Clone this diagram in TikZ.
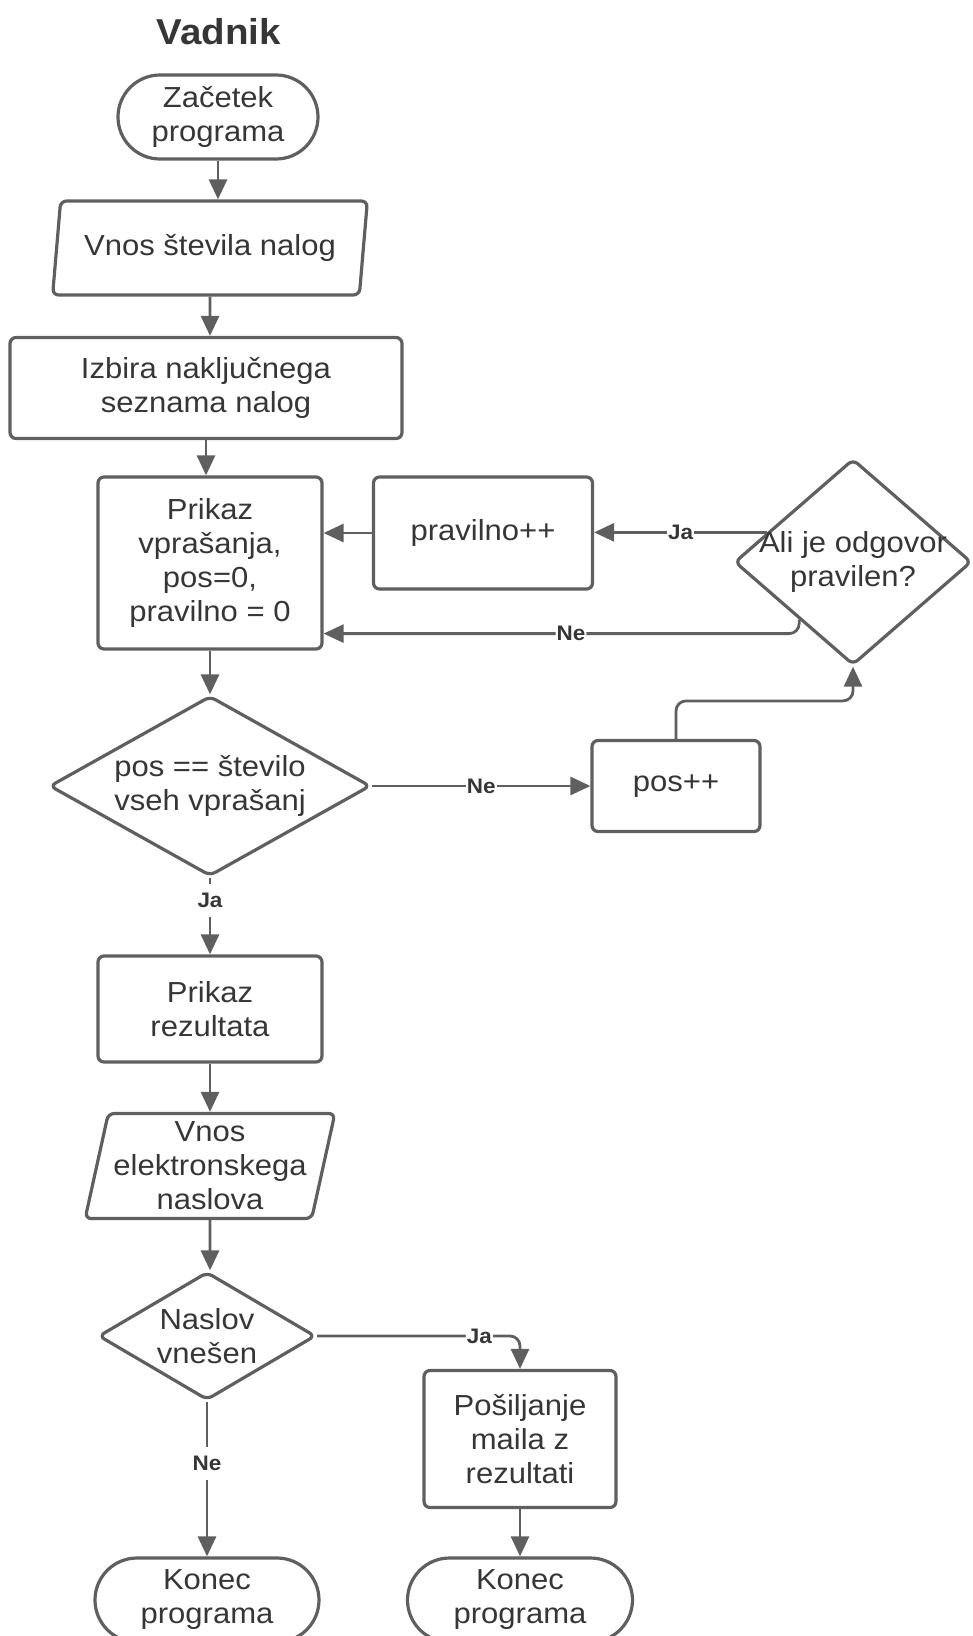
\documentclass[tikz,border=0pt]{standalone}
\usepackage{fontspec}
\setmainfont{Liberation Sans}[FakeStretch=1.07]
\usetikzlibrary{shapes.geometric, arrows.meta}
\definecolor{linegray}{HTML}{5F5F5F}
\definecolor{textgray}{HTML}{363636}

\begin{document}
\begin{tikzpicture}[x=1pt, y=-1pt, >={Triangle[length=20pt, width=18pt]},
  every node/.style={text=textgray, font=\fontsize{29}{34}\selectfont, align=center},
  terminal/.style={draw=linegray, line width=3.2pt, rectangle, rounded corners=42pt, minimum height=84pt, inner sep=0pt},
  process/.style={draw=linegray, line width=3.2pt, rectangle, rounded corners=6pt, inner sep=0pt},
  io/.style={draw=linegray, line width=3.2pt, trapezium, trapezium left angle=76, trapezium right angle=104, trapezium stretches=true, rounded corners=6pt, inner sep=0pt},
  decision/.style={draw=linegray, line width=3.2pt, diamond, rounded corners=6pt, inner xsep=-40pt, inner ysep=-10pt},
  arr/.style={draw=linegray, line width=2.8pt, ->},
  lbl/.style={font=\fontsize{21}{24}\selectfont\bfseries, fill=white, inner xsep=1pt, inner ysep=9pt}]
\useasboundingbox (0,0) rectangle (972,1636);

\node[font=\fontsize{36}{40}\selectfont\bfseries] (title) at (219,32) {Vadnik};

\node[terminal, minimum width=200pt] (start) at (218,117) {Začetek\\programa};
\node[io, minimum width=316pt, minimum height=94pt] (nalog) at (210,248) {Vnos števila nalog};
\node[process, minimum width=392pt, minimum height=101pt] (izbira) at (206,388) {Izbira naključnega\\seznama nalog};
\node[process, minimum width=224pt, minimum height=172pt] (prikaz) at (210,563) {Prikaz\\vprašanja,\\pos=0,\\pravilno = 0};
\node[process, minimum width=219pt, minimum height=112pt] (pravilno) at (483,533) {pravilno++};
\node[decision, minimum width=237pt, minimum height=206pt] (ali) at (853,562) {Ali je odgovor\\pravilen?};
\node[decision, minimum width=321pt, minimum height=180pt] (posdec) at (210,786) {pos == število\\vseh vprašanj};
\node[process, minimum width=168pt, minimum height=91pt] (posinc) at (676,786) {pos++};
\node[process, minimum width=224pt, minimum height=106pt] (rezultat) at (210,1009) {Prikaz\\rezultata};
\node[io, minimum width=250pt, minimum height=105pt] (email) at (210,1166) {Vnos\\elektronskega\\naslova};
\node[decision, minimum width=217pt, minimum height=128pt] (naslov) at (207,1336) {Naslov\\vnešen};
\node[process, minimum width=192pt, minimum height=137pt] (posiljanje) at (520,1439) {Pošiljanje\\maila z\\rezultati};
\node[terminal, minimum width=224pt] (konec1) at (207,1600) {Konec\\programa};
\node[terminal, minimum width=225pt] (konec2) at (520,1600) {Konec\\programa};

\draw[arr] (start) -- (start |- nalog.north);
\draw[arr] (nalog) -- (nalog |- izbira.north);
\draw[arr] (izbira) -- (izbira |- prikaz.north);
\draw[arr] (prikaz) -- (posdec);
\draw[arr] (posdec) -- (posinc) node[lbl, midway] {Ne};
\draw[arr, rounded corners=10pt] (posinc.north) -- ++(0,-38) -| (ali.south);
\draw[arr] (ali.161) -- (ali.161 -| pravilno.east) node[lbl, midway] {Ja};
\draw[arr] (pravilno) -- (pravilno -| prikaz.east);
\draw[arr, rounded corners=10pt] (ali.227) |- ([yshift=17pt]prikaz.south east) node[lbl, pos=0.74] {Ne};
\draw[arr] (posdec) -- (rezultat) node[lbl, pos=0.3] {Ja};
\draw[arr] (rezultat) -- (email);
\draw[arr] (email) -- (email |- naslov.north);
\draw[arr, rounded corners=10pt] (naslov.east) -| (posiljanje.north) node[lbl, pos=0.4] {Ja};
\draw[arr] (naslov) -- (konec1) node[lbl, pos=0.4] {Ne};
\draw[arr] (posiljanje) -- (konec2);
\end{tikzpicture}
\end{document}
